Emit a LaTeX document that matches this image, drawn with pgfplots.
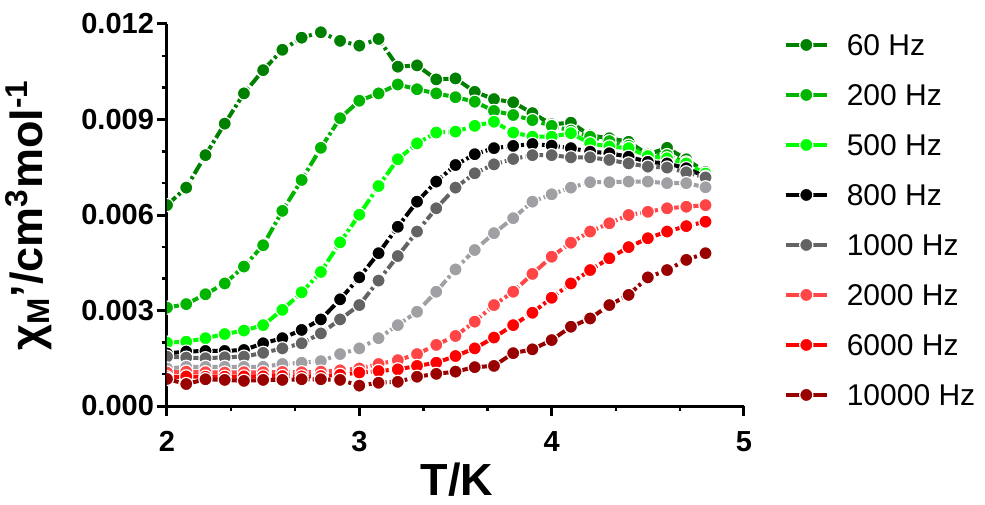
\documentclass[border=0pt]{standalone}
\usepackage{fontspec}
\setmainfont{Liberation Sans}
\usepackage{pgfplots}
\usepackage{pgfplotstable}
\pgfplotsset{compat=1.18}

\definecolor{c60}{HTML}{008000}
\definecolor{c200}{HTML}{00B400}
\definecolor{c500}{HTML}{00FF00}
\definecolor{c800}{HTML}{000000}
\definecolor{c1000}{HTML}{636363}
\definecolor{c1500}{HTML}{A0A0A4}
\definecolor{c2000}{HTML}{FF4545}
\definecolor{c6000}{HTML}{FF0000}
\definecolor{c10000}{HTML}{990000}

% chi_M' vs T, one column per frequency
\pgfplotstableread{
T   f60     f200    f500    f800    f1000   f1500   f2000   f6000   f10000
2.0 0.00631 0.00309 0.00199 0.00165 0.00155 0.00118 0.00105 0.00090 0.00085
2.1 0.00686 0.00320 0.00202 0.00171 0.00152 0.00123 0.00108 0.00093 0.00069
2.2 0.00788 0.00351 0.00213 0.00173 0.00150 0.00123 0.00106 0.00092 0.00084
2.3 0.00887 0.00385 0.00226 0.00173 0.00153 0.00123 0.00105 0.00092 0.00082
2.4 0.00982 0.00438 0.00237 0.00176 0.00155 0.00123 0.00106 0.00093 0.00079
2.5 0.01055 0.00505 0.00254 0.00197 0.00167 0.00123 0.00106 0.00093 0.00082
2.6 0.01119 0.00613 0.00302 0.00213 0.00181 0.00132 0.00107 0.00094 0.00082
2.7 0.01157 0.00710 0.00357 0.00239 0.00197 0.00136 0.00106 0.00093 0.00084
2.8 0.01174 0.00811 0.00421 0.00272 0.00228 0.00141 0.00108 0.00094 0.00084
2.9 0.01147 0.00904 0.00514 0.00335 0.00272 0.00163 0.00112 0.00098 0.00082
3.0 0.01132 0.00959 0.00601 0.00404 0.00317 0.00181 0.00118 0.00105 0.00064
3.1 0.01153 0.00982 0.00691 0.00480 0.00394 0.00213 0.00132 0.00110 0.00073
3.2 0.01066 0.01010 0.00775 0.00563 0.00471 0.00254 0.00144 0.00115 0.00076
3.3 0.01070 0.00995 0.00825 0.00642 0.00548 0.00296 0.00163 0.00126 0.00092
3.4 0.01026 0.00982 0.00859 0.00705 0.00621 0.00359 0.00192 0.00136 0.00101
3.5 0.01029 0.00970 0.00862 0.00757 0.00686 0.00429 0.00220 0.00157 0.00108
3.6 0.00987 0.00956 0.00880 0.00791 0.00731 0.00490 0.00265 0.00181 0.00122
3.7 0.00964 0.00927 0.00893 0.00810 0.00759 0.00543 0.00317 0.00215 0.00126
3.8 0.00954 0.00914 0.00859 0.00817 0.00776 0.00590 0.00359 0.00254 0.00166
3.9 0.00920 0.00898 0.00846 0.00823 0.00788 0.00642 0.00415 0.00293 0.00178
4.0 0.00885 0.00880 0.00846 0.00818 0.00788 0.00665 0.00469 0.00340 0.00207
4.1 0.00890 0.00865 0.00857 0.00810 0.00781 0.00686 0.00513 0.00385 0.00249
4.2 0.00850 0.00846 0.00825 0.00799 0.00781 0.00703 0.00548 0.00427 0.00275
4.3 0.00841 0.00832 0.00815 0.00794 0.00773 0.00703 0.00574 0.00464 0.00317
4.4 0.00830 0.00818 0.00810 0.00783 0.00762 0.00705 0.00600 0.00499 0.00349
4.5 0.00790 0.00790 0.00785 0.00767 0.00752 0.00705 0.00610 0.00527 0.00404
4.6 0.00811 0.00788 0.00778 0.00762 0.00749 0.00700 0.00621 0.00548 0.00427
4.7 0.00775 0.00765 0.00762 0.00747 0.00734 0.00700 0.00626 0.00565 0.00459
4.8 0.00735 0.00725 0.00730 0.00720 0.00718 0.00687 0.00631 0.00579 0.00480
}\chidata

\pgfplotsset{
  ser/.style={color=#1, line width=2pt,
    dash pattern=on 6pt off 1.5pt on 1.5pt off 1.5pt,
    mark=*, mark size=3.3pt,
    mark options={solid, fill=#1, draw=white, line width=0.6pt}},
}

\begin{document}
\begin{tikzpicture}
\path[use as bounding box] (-83.5pt,-49pt) rectangle (409pt,203pt);
\begin{axis}[
    at={(0pt,0pt)}, anchor=south west,
    scale only axis, width=288.5pt, height=191pt,
    xmin=2, xmax=5, ymin=0, ymax=0.012,
    axis x line*=bottom, axis y line*=left,
    axis line style={line width=1.5pt, -},
    xtick={2,3,4,5},
    ytick={0,0.003,0.006,0.009,0.012},
    minor x tick num=2, minor y tick num=2,
    tick align=outside,
    major tick length=5pt, minor tick length=2.5pt,
    major tick style={line width=1.5pt, black},
    minor tick style={line width=1.2pt, black},
    scaled y ticks=false,
    yticklabel style={xshift=2pt, /pgf/number format/.cd, fixed, fixed zerofill, precision=3, assume math mode=true},
    xticklabel style={anchor=north, inner sep=0pt, yshift=-7.5pt, /pgf/number format/assume math mode=true},
    tick label style={font=\fontsize{14.5}{14.5}\selectfont\bfseries},
    xlabel={T/K},
    ylabel={χ\textsubscript{M}'/cm\textsuperscript{3}mol\textsuperscript{-1}},
    label style={font=\fontsize{22.5}{22.5}\selectfont\bfseries},
    xlabel style={at={(axis description cs:0.503,0)}, anchor=center, inner sep=0pt, yshift=-37pt},
    ylabel style={at={(axis description cs:-0.24,0.5)}, anchor=center},
    clip marker paths=true,
    legend cell align=left,
    legend style={draw=none, fill=none, at={(axis description cs:1.069,0.974)},
      anchor=north west, inner sep=0pt, outer sep=0pt, row sep=14pt, column sep=9pt,
      font=\fontsize{15}{15}\selectfont,
      nodes={inner sep=0pt, text height=11pt, text depth=0pt}},
    legend image code/.code={
      \draw[mark repeat=2, mark phase=2, #1, solid]
        plot coordinates {(0pt,0pt) (10.25pt,0pt) (20.5pt,0pt)};},
]
\addplot[ser=c60] table[x=T, y=f60] {\chidata};
\addlegendentry{60 Hz}
\addplot[ser=c200] table[x=T, y=f200] {\chidata};
\addlegendentry{200 Hz}
\addplot[ser=c500] table[x=T, y=f500] {\chidata};
\addlegendentry{500 Hz}
\addplot[ser=c800] table[x=T, y=f800] {\chidata};
\addlegendentry{800 Hz}
\addplot[ser=c1000] table[x=T, y=f1000] {\chidata};
\addlegendentry{1000 Hz}
\addplot[ser=c1500, forget plot] table[x=T, y=f1500] {\chidata};
\addplot[ser=c2000] table[x=T, y=f2000] {\chidata};
\addlegendentry{2000 Hz}
\addplot[ser=c6000] table[x=T, y=f6000] {\chidata};
\addlegendentry{6000 Hz}
\addplot[ser=c10000] table[x=T, y=f10000] {\chidata};
\addlegendentry{10000 Hz}
\end{axis}
\end{tikzpicture}
\end{document}
